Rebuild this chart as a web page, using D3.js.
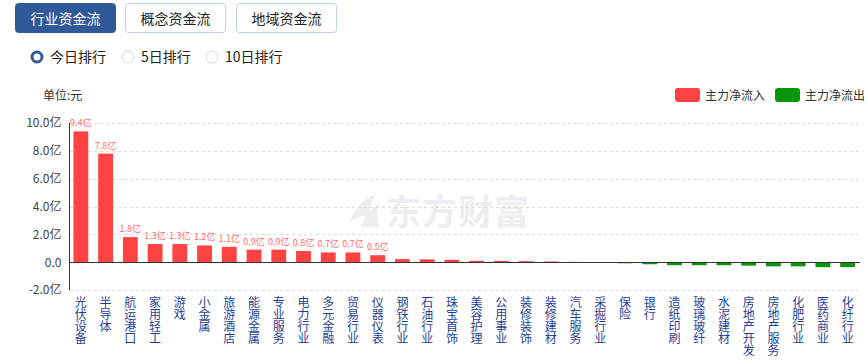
<!DOCTYPE html>
<html>
<head>
<meta charset="utf-8">
<script src="https://cdn.jsdelivr.net/npm/d3@7"></script>
<style>
  html, body { margin: 0; padding: 0; background: #fff; }
  svg { display: block; font-family: "Noto Sans CJK SC", "Noto Sans", sans-serif; }
</style>
</head>
<body>
<svg id="chart" width="868" height="360"></svg>
<script>
const categories = ["光伏设备","半导体","航运港口","家用轻工","游戏","小金属","旅游酒店","能源金属","专业服务","电力行业","多元金融","贸易行业","仪器仪表","钢铁行业","石油行业","珠宝首饰","美容护理","公用事业","装修装饰","装修建材","汽车服务","采掘行业","保险","银行","造纸印刷","玻璃玻纤","水泥建材","房地产开发","房地产服务","化肥行业","医药商业","化纤行业"];
const values = [9.4,7.8,1.8,1.3,1.3,1.2,1.1,0.9,0.9,0.8,0.7,0.7,0.5,0.22,0.2,0.17,0.1,0.09,0.07,0.05,0.02,-0.02,-0.08,-0.15,-0.22,-0.22,-0.22,-0.25,-0.3,-0.3,-0.36,-0.35];
const showLabel = [true,true,true,true,true,true,true,true,true,true,true,true,true,false,false,false,false,false,false,false,false,false,false,false,false,false,false,false,false,false,false,false];
const yTicks = [-2,0,2,4,6,8,10];
const tabs = ["行业资金流","概念资金流","地域资金流"];
const radios = ["今日排行","5日排行","10日排行"];
const legendItems = ["主力净流入","主力净流出"];
const colors = {up:"#ff4343", down:"#0a960a"};

const svg = d3.select("#chart");

// Tabs
const tabX = [15,125,236];
tabs.forEach((t,i)=>{
  const g = svg.append("g");
  g.append("rect").attr("x",tabX[i]+0.5).attr("y",3.5).attr("width",100).attr("height",29).attr("rx",3)
    .attr("fill", i===0 ? "#2f5998" : "#fff").attr("stroke", i===0 ? "#2f5998" : "#bcd2e8");
  g.append("text").attr("x",tabX[i]+50.5).attr("y",23.5).attr("text-anchor","middle")
    .attr("font-size",14).attr("fill", i===0 ? "#fff" : "#222").text(t);
});

// Radios
const radioX = [37,128,212];
radios.forEach((r,i)=>{
  if (i===0) {
    svg.append("circle").attr("cx",radioX[i]).attr("cy",57).attr("r",5).attr("fill","#fff").attr("stroke","#2f5998").attr("stroke-width",3);
  } else {
    svg.append("circle").attr("cx",radioX[i]).attr("cy",57).attr("r",6).attr("fill","#fff").attr("stroke","#cfdbe8").attr("stroke-width",1);
  }
  svg.append("text").attr("x",radioX[i]+13).attr("y",62).attr("font-size",14).attr("fill","#222").text(r);
});

// Unit label
svg.append("text").attr("x",43).attr("y",100).attr("font-size",12).attr("fill","#333").text("单位:元");

// Legend
const legX = [675,775];
legendItems.forEach((l,i)=>{
  svg.append("rect").attr("x",legX[i]).attr("y",88).attr("width",25).attr("height",14).attr("rx",3)
    .attr("fill", i===0 ? colors.up : colors.down);
  svg.append("text").attr("x",legX[i]+30).attr("y",99.5).attr("font-size",12).attr("fill","#333").text(l);
});

// Watermark
const wm = svg.append("g").attr("fill","#eceef2");
wm.append("path").attr("d","M350,222 C354,209 363,199 376,194 C370,203 368,212 371,222 C366,214 359,215 350,222 Z");
wm.append("path").attr("d","M361,227 C365,216 372,208 379,203 C376,212 376,220 380,227 Z");
wm.append("text").attr("x",386).attr("y",225).attr("font-size",35).attr("font-weight","bold").attr("letter-spacing",1).text("东方财富");

// Scales
const x = d3.scaleBand().domain(categories).range([68.5,860]).paddingInner(0.4).paddingOuter(0.2);
const y = d3.scaleLinear().domain([-2,10]).range([290,123]);

// Grid lines
svg.append("g").selectAll("line").data(yTicks.filter(d=>d!==0)).join("line")
  .attr("x1",70).attr("x2",858).attr("y1",d=>Math.round(y(d))+0.5).attr("y2",d=>Math.round(y(d))+0.5)
  .attr("stroke","#dcdcdc").attr("stroke-dasharray","3,3");

// Y axis
const yAxis = d3.axisLeft(y).tickValues(yTicks).tickSize(0).tickPadding(8)
  .tickFormat(d => d===0 ? "0.0" : d.toFixed(1)+"亿");
const yg = svg.append("g").attr("transform","translate(69.5,0)").call(yAxis);
yg.select(".domain").attr("stroke","#333").attr("d","M0,123V290");
yg.selectAll("text").attr("font-size",12).attr("fill","#444").attr("font-family",'"Noto Sans CJK SC", sans-serif');

// Bars
svg.append("g").selectAll("rect").data(categories).join("rect")
  .attr("x",d=>x(d)).attr("width",x.bandwidth())
  .attr("y",(d,i)=>values[i]>=0 ? y(values[i]) : y(0))
  .attr("height",(d,i)=>Math.abs(y(values[i])-y(0)))
  .attr("fill",(d,i)=>values[i]>=0 ? colors.up : colors.down);

// Zero axis
svg.append("line").attr("x1",69).attr("x2",860).attr("y1",Math.round(y(0))+0.5).attr("y2",Math.round(y(0))+0.5)
  .attr("stroke","#333").attr("stroke-width",1);

// Value labels
svg.append("g").selectAll("text").data(categories.filter((d,i)=>showLabel[i])).join("text")
  .attr("x",d=>x(d)+x.bandwidth()/2)
  .attr("y",d=>y(values[categories.indexOf(d)])-5)
  .attr("text-anchor","middle").attr("font-size",9).attr("fill","#ff6b6b")
  .text(d=>values[categories.indexOf(d)].toFixed(1)+"亿");

// X labels (stacked characters)
const xl = svg.append("g").selectAll("text").data(categories).join("text")
  .attr("font-size",12).attr("fill","#1f3f94").attr("text-anchor","middle");
xl.each(function(d){
  const t = d3.select(this);
  const cx = x(d)+x.bandwidth()/2;
  Array.from(d).forEach((ch,j)=>{
    t.append("tspan").attr("x",cx).attr("y",307+j*12).text(ch);
  });
});
</script>
</body>
</html>
